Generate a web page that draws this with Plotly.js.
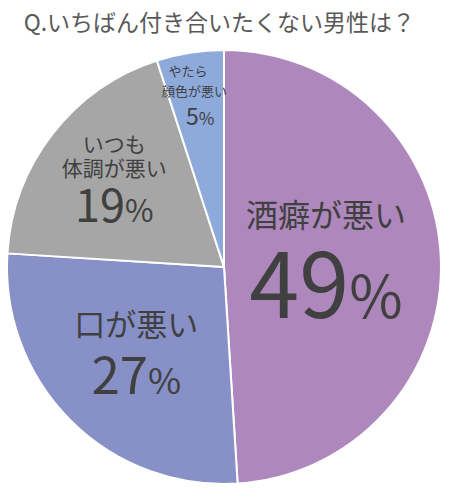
<!DOCTYPE html>
<html>
<head>
<meta charset="utf-8">
<script src="https://cdn.plot.ly/plotly-3.0.1.min.js"></script>
<style>
  html, body { margin: 0; padding: 0; background: #fff; }
  #chart { width: 455px; height: 500px; }
</style>
</head>
<body>
<div id="chart"></div>
<script>
// data
const labels = ["酒癖が悪い", "口が悪い", "いつも<br>体調が悪い", "やたら　<br>顔色が悪い"];
const values = [49, 27, 19, 5];
const colors = ["#ae88bd", "#8791c8", "#a6a6a6", "#8eaadb"];

const FONT = "Noto Sans CJK JP, Noto Sans, sans-serif";

// per-slice text sizes: [base line size, label, digits, percent sign]
const sizes = [
    [70, 32, 90, 58],
    [45, 31, 51, 36],
    [18, 21, 45, 31],
    [15, 13, 23, 17]
];

function pct(i) {
    const s = sizes[i];
    return '<span style="font-size:' + s[2] + 'px">' + values[i] + "</span>" +
        '<span style="font-size:' + s[3] + 'px">%</span>';
}
function lab(i) {
    return '<span style="font-size:' + sizes[i][1] + 'px">' + labels[i] + "</span>";
}

// the thin slice keeps its text outside the pie trace (placed with annotations below)
const texts = labels.map((l, i) => {
    if (i === 3) return "";
    const gap = i === 2 ? "<br>" : "";
    return lab(i) + "<br>" + gap + pct(i);
});

const trace = {
    type: "pie",
    labels: labels,
    values: values,
    text: texts,
    texttemplate: "%{text}",
    textposition: ["inside", "inside", "inside", "none"],
    insidetextorientation: "horizontal",
    textfont: {
        family: FONT,
        color: "#404040",
        size: sizes.map(s => s[0])
    },
    sort: false,
    direction: "clockwise",
    rotation: 0,
    marker: {
        colors: colors,
        line: { color: "#ffffff", width: 2 }
    },
    hoverinfo: "skip"
};

// mid angle of the thin slice, from the values (clockwise from 12 o'clock)
const total = values.reduce((a, b) => a + b, 0);
const before = values.slice(0, 3).reduce((a, b) => a + b, 0);
const mid = (before + values[3] / 2) / total * 2 * Math.PI;
function onRadius(f) {
    return { x: 0.5 + 0.5 * f * Math.sin(mid), y: 0.5 + 0.5 * f * Math.cos(mid) };
}
const pLab = onRadius(0.87);
const pPct = onRadius(0.71);

const layout = {
    width: 455,
    height: 500,
    showlegend: false,
    paper_bgcolor: "#ffffff",
    margin: { l: 7, r: 14, t: 50, b: 16 },
    title: {
        text: "Q.いちばん付き合いたくない男性は？",
        x: 0.052,
        xanchor: "left",
        y: 0.954,
        yanchor: "middle",
        font: { family: FONT, size: 23, color: "#595959" }
    },
    annotations: [
        {
            xref: "paper", yref: "paper",
            x: pLab.x, y: pLab.y,
            xanchor: "center", yanchor: "middle",
            showarrow: false,
            text: lab(3),
            font: { family: FONT, size: sizes[3][0], color: "#404040" }
        },
        {
            xref: "paper", yref: "paper",
            x: pPct.x, y: pPct.y,
            xanchor: "center", yanchor: "middle",
            showarrow: false,
            text: pct(3),
            font: { family: FONT, size: sizes[3][2], color: "#404040" }
        }
    ]
};

Plotly.newPlot("chart", [trace], layout, { displayModeBar: false, staticPlot: true });
</script>
</body>
</html>
